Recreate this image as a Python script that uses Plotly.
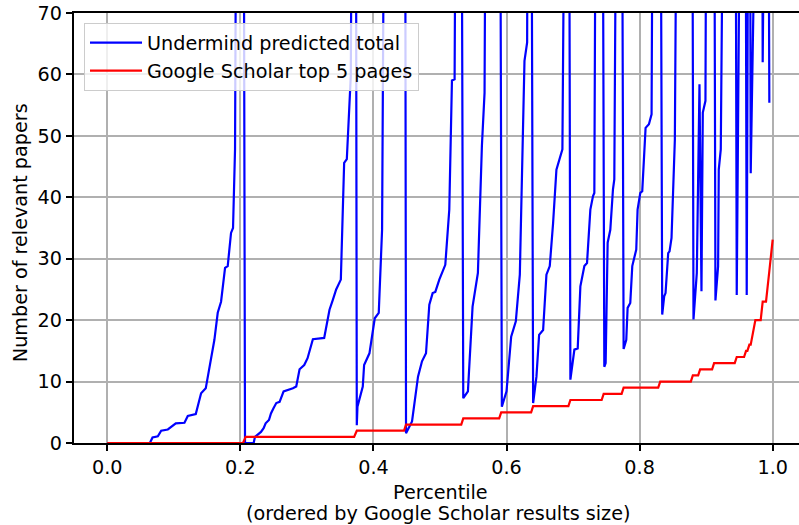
import plotly.graph_objects as go

# ---- data ----
# Undermind predicted total (values above 70 are off-chart; estimated)
und_x = [0.0, 0.064, 0.068, 0.076, 0.081, 0.091, 0.103, 0.116, 0.121, 0.133, 0.141, 0.148,
         0.161, 0.166, 0.171, 0.177, 0.181, 0.186, 0.189, 0.192, 0.196, 0.204, 0.207,
         0.220, 0.222, 0.226, 0.231, 0.235, 0.238, 0.243, 0.246, 0.250, 0.254, 0.259,
         0.262, 0.265, 0.279, 0.284, 0.289, 0.296, 0.301, 0.309, 0.326, 0.334, 0.339,
         0.344, 0.351, 0.356, 0.360, 0.366, 0.370, 0.373,
         0.375, 0.376, 0.384, 0.386, 0.394, 0.402, 0.408, 0.413, 0.419, 0.447,
         0.449, 0.458, 0.467, 0.473, 0.479, 0.484, 0.489, 0.493, 0.499, 0.508, 0.514,
         0.518, 0.522, 0.526, 0.531,
         0.535, 0.542, 0.549, 0.557, 0.563, 0.567, 0.571, 0.589,
         0.593, 0.600, 0.607, 0.614, 0.620, 0.627, 0.631, 0.633, 0.636,
         0.640, 0.645, 0.649, 0.655, 0.660, 0.665, 0.670, 0.675, 0.684, 0.691, 0.693,
         0.696, 0.702, 0.707, 0.711, 0.717, 0.721, 0.726, 0.730, 0.732, 0.736, 0.743,
         0.747, 0.749, 0.752, 0.756, 0.760, 0.762, 0.768, 0.772,
         0.776, 0.780, 0.782, 0.786, 0.789, 0.795, 0.797, 0.801, 0.804, 0.809, 0.814,
         0.818, 0.822, 0.830,
         0.834, 0.837, 0.839, 0.843, 0.845, 0.848, 0.853, 0.859, 0.878,
         0.881, 0.886, 0.890, 0.893, 0.895, 0.899, 0.902, 0.911,
         0.914, 0.918, 0.919, 0.922, 0.930, 0.943,
         0.946, 0.955, 0.958, 0.961, 0.964, 0.965, 0.967, 0.974, 0.983, 0.985,
         0.987, 0.992, 0.995]
und_y = [0, 0, 0.9, 1.1, 2.0, 2.2, 3.2, 3.3, 4.4, 4.7, 8.1, 8.9,
         16.8, 21.2, 23.0, 28.5, 28.8, 34.2, 35.0, 47.8, 150, 150, 0,
         0, 1.0, 1.3, 1.8, 2.4, 3.2, 3.75, 4.8, 5.7, 6.5, 6.7,
         7.5, 8.4, 8.9, 9.2, 12.0, 12.7, 13.8, 16.9, 17.1, 21.7, 23.3,
         25.0, 26.6, 45.6, 46.2, 59.8, 150, 150,
         2.9, 5.9, 9.2, 12.7, 14.6, 20.3, 21.2, 34.7, 150, 150,
         1.6, 3.5, 10.8, 13.3, 14.6, 22.5, 24.4, 24.6, 26.6, 29.0, 38.0,
         59.0, 59.2, 150, 150,
         7.3, 8.4, 22.2, 27.7, 48.3, 57.0, 150, 150,
         5.9, 8.4, 17.3, 19.8, 27.4, 62.2, 65.2, 150, 150,
         6.5, 10.8, 17.6, 18.4, 27.4, 28.8, 35.8, 44.5, 47.8, 150, 150,
         10.3, 15.2, 15.4, 25.5, 28.8, 29.3, 38.0, 40.2, 40.7, 150, 150,
         12.4, 13.0, 32.6, 34.7, 41.3, 42.9, 150, 150,
         15.3, 16.8, 22.0, 22.8, 28.8, 31.5, 38.0, 40.7, 41.0, 51.3, 51.9,
         53.5, 150, 150,
         20.9, 23.9, 24.4, 30.9, 31.2, 33.4, 49.4, 150, 150,
         20.1, 27.7, 58.4, 24.7, 53.8, 55.7, 150, 150,
         23.2, 28.8, 44.5, 47.8, 150, 150,
         24.1, 150, 150, 24.1, 150, 150, 43.9, 150, 150, 62.0,
         150, 150, 55.4]

# Google Scholar top 5 pages
gs_x = [0.0, 0.204, 0.208, 0.371, 0.375, 0.446, 0.449, 0.532, 0.535, 0.589, 0.592,
        0.637, 0.640, 0.693, 0.696, 0.743, 0.746, 0.773, 0.776, 0.828, 0.831, 0.877,
        0.880, 0.888, 0.891, 0.909, 0.912, 0.943, 0.946, 0.957, 0.960, 0.962, 0.965,
        0.967, 0.974, 0.982, 0.985, 0.990, 0.995, 1.0]
gs_y = [0, 0, 1, 1, 2, 2, 3, 3, 4, 4, 5,
        5, 6, 6, 7, 7, 8, 8, 9, 9, 10, 10,
        11, 11, 12, 12, 13, 13, 14, 14, 15, 15, 16,
        16, 20, 20, 23, 23, 28, 33.1]

x_ticks = [0.0, 0.2, 0.4, 0.6, 0.8, 1.0]
x_tick_labels = ["0.0", "0.2", "0.4", "0.6", "0.8", "1.0"]
y_ticks = [0, 10, 20, 30, 40, 50, 60, 70]

FONT = "DejaVu Sans"
FS = 19.2

fig = go.Figure()
fig.add_trace(go.Scatter(x=und_x, y=und_y, mode="lines", name="Undermind predicted total",
                         line=dict(color="#0000ff", width=2.2)))
fig.add_trace(go.Scatter(x=gs_x, y=gs_y, mode="lines", name="Google Scholar top 5 pages",
                         line=dict(color="#ff0000", width=2.2)))

L, T, B = 74, 13, 82
W, H = 799, 525
plot_w = W - L
plot_h = H - T - B
px_per_unit = 665.4
x0 = -0.05
x1 = x0 + plot_w / px_per_unit


def py(pix):
    return (443.3 - pix) / plot_h


def pxp(pix):
    return (pix - L) / plot_w


fig.update_layout(
    width=W, height=H,
    margin=dict(l=L, r=0, t=T, b=B, pad=0),
    paper_bgcolor="white", plot_bgcolor="white",
    font=dict(family=FONT, size=FS, color="black"),
    showlegend=True,
    legend=dict(x=pxp(84), y=py(23), xanchor="left", yanchor="top",
                bgcolor="rgba(255,255,255,0.8)", bordercolor="#cccccc", borderwidth=1,
                font=dict(family=FONT, size=FS), tracegroupgap=0, itemwidth=52),
    xaxis=dict(range=[x0, x1], tickvals=x_ticks, ticktext=x_tick_labels,
               showgrid=True, gridcolor="#b0b0b0", gridwidth=1.5, zeroline=False,
               showline=True, linecolor="black", linewidth=1.5, mirror=True,
               ticks="outside", ticklen=6.5, tickwidth=1.5, tickcolor="black",
               tickfont=dict(family=FONT, size=FS)),
    yaxis=dict(range=[0, 70], tickvals=y_ticks,
               showgrid=True, gridcolor="#b0b0b0", gridwidth=1.5, zeroline=False,
               showline=True, linecolor="black", linewidth=1.5, mirror=False,
               ticks="outside", ticklen=6.5, tickwidth=1.5, tickcolor="black",
               tickfont=dict(family=FONT, size=FS)),
)

fig.add_annotation(text="Percentile", xref="paper", yref="paper",
                   x=pxp(440), y=py(492.5), xanchor="center", yanchor="middle",
                   showarrow=False, font=dict(family=FONT, size=FS))
fig.add_annotation(text="(ordered by Google Scholar results size)", xref="paper", yref="paper",
                   x=pxp(438), y=py(513.5), xanchor="center", yanchor="middle",
                   showarrow=False, font=dict(family=FONT, size=FS))
fig.add_annotation(text="Number of relevant papers", textangle=-90,
                   xref="paper", yref="paper",
                   x=pxp(7), y=py(233), xanchor="left", yanchor="middle", showarrow=False,
                   font=dict(family=FONT, size=FS))

fig.write_html("out.html")
